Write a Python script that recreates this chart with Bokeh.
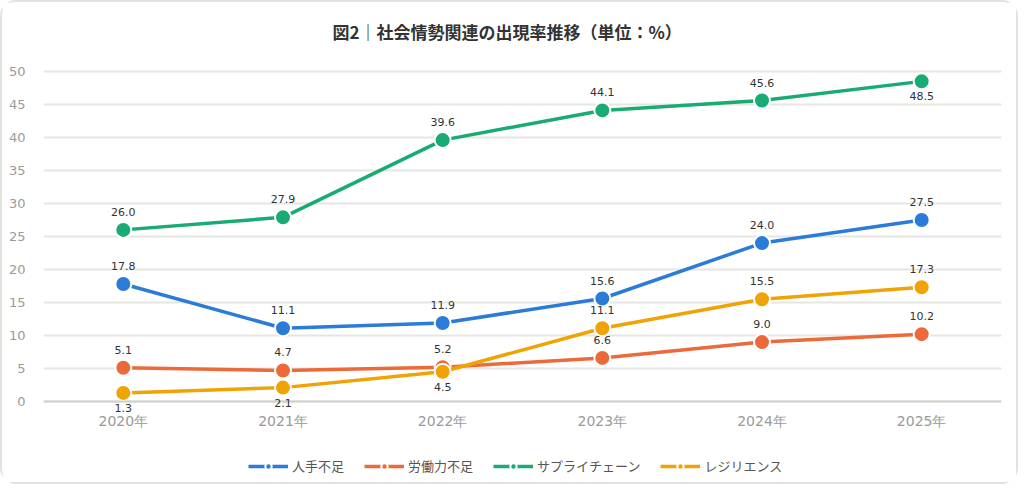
from bokeh.plotting import figure
from bokeh.models import ColumnDataSource, LabelSet, Legend, LegendItem, Label, FactorRange, Range1d
from bokeh.core.properties import value
from bokeh.embed import file_html
from bokeh.resources import INLINE

years = ["2020年", "2021年", "2022年", "2023年", "2024年", "2025年"]
series_names = ["人手不足", "労働力不足", "サプライチェーン", "レジリエンス"]
jinde = [17.8, 11.1, 11.9, 15.6, 24.0, 27.5]
roudou = [5.1, 4.7, 5.2, 6.6, 9.0, 10.2]
supply = [26.0, 27.9, 39.6, 44.1, 45.6, 48.5]
resil = [1.3, 2.1, 4.5, 11.1, 15.5, 17.3]
y_ticks = [0, 5, 10, 15, 20, 25, 30, 35, 40, 45, 50]
title_text = "図2｜社会情勢関連の出現率推移（単位：%）"

colors = ["#2b7bd9", "#ec6a3a", "#19ab74", "#f0a304"]
below_idx = [[], [], [5], [0, 1, 2]]
values = [jinde, roudou, supply, resil]

JP = "Noto Sans CJK JP"

p = figure(x_range=FactorRange(*years), y_range=Range1d(-11.82, 60.45), width=1018, height=484,
           output_backend="svg", toolbar_location=None,
           min_border_left=41, min_border_right=19, min_border_top=0, min_border_bottom=7)
p.styles = {"border": "2px solid #e3e3de", "border-radius": "16px"}
p.outline_line_color = None
p.background_fill_color = "white"
p.border_fill_color = "white"

p.add_layout(Label(x=2.904, y=56.06, text=title_text, text_align="center", text_baseline="middle",
                   text_font=JP, text_font_size="17px", text_font_style="bold",
                   text_color="#333333"))

p.xgrid.grid_line_color = None
p.ygrid.grid_line_color = "#e6e6e1"
p.ygrid.grid_line_width = 2
p.yaxis.ticker = y_ticks
p.yaxis.axis_line_color = None
p.yaxis.major_tick_line_color = None
p.yaxis.minor_tick_line_color = None
p.yaxis.major_label_text_color = "#9a9a9a"
p.yaxis.major_label_text_font = "DejaVu Sans"
p.yaxis.major_label_text_font_size = "13px"
p.yaxis.major_label_standoff = 12

p.xaxis.fixed_location = 0
p.xaxis.axis_line_color = "#d0d0cb"
p.xaxis.axis_line_width = 2
p.xaxis.major_tick_line_color = None
p.xaxis.minor_tick_line_color = None
p.xaxis.major_label_text_color = "#9a9a9a"
p.xaxis.major_label_text_font = "DejaVu Sans"
p.xaxis.major_label_text_font_size = "14px"
p.xaxis.major_label_standoff = 6

items = []
for name, vals, col, bel in zip(series_names, values, colors, below_idx):
    src = ColumnDataSource(dict(x=years, y=vals))
    p.line("x", "y", source=src, line_color=col, line_width=3.5)
    p.scatter("x", "y", source=src, size=16, fill_color=col, line_color="white", line_width=2)
    up = [i for i in range(len(vals)) if i not in bel]
    up_src = ColumnDataSource(dict(x=[years[i] for i in up], y=[vals[i] for i in up],
                                   t=[f"{vals[i]:.1f}" for i in up]))
    dn_src = ColumnDataSource(dict(x=[years[i] for i in bel], y=[vals[i] for i in bel],
                                   t=[f"{vals[i]:.1f}" for i in bel]))
    for s, off in ((up_src, 18), (dn_src, -15)):
        p.add_layout(LabelSet(x="x", y="y", text="t", source=s, y_offset=off,
                              text_align="center", text_baseline="middle",
                              text_font=value("DejaVu Sans"), text_font_size="11px",
                              text_color="#333333"))
    dummy = ColumnDataSource(dict(x=[years[0]], y=[-100]))
    lr = p.line("x", "y", source=dummy, line_color=col, line_width=3.5)
    dr = p.scatter("x", "y", source=dummy, size=6, fill_color=col, line_color="white", line_width=2)
    items.append(LegendItem(label=name, renderers=[lr, dr]))

legend = Legend(items=items, orientation="horizontal", location=(205, 4),
                label_text_font=JP, label_text_font_size="13px", label_text_color="#555555",
                glyph_width=40, glyph_height=16, spacing=20, label_standoff=4,
                border_line_color=None, background_fill_alpha=0, padding=4, margin=0)
p.add_layout(legend)

open("out.html", "w").write(file_html(p, INLINE))
